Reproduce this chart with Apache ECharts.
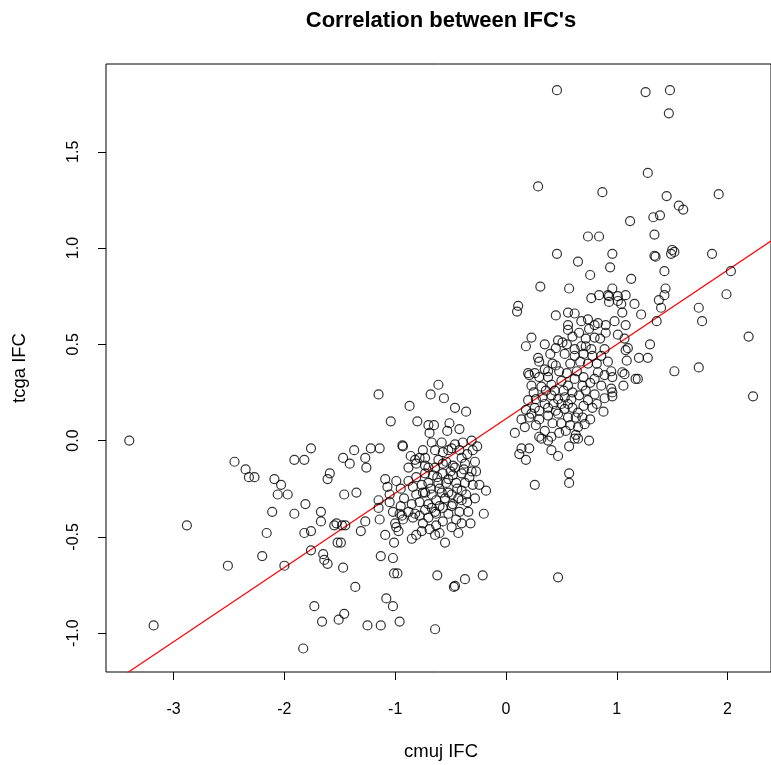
<!DOCTYPE html>
<html>
<head>
<meta charset="utf-8">
<script src="https://cdn.jsdelivr.net/npm/echarts@6/dist/echarts.min.js"></script>
<style>
html,body{margin:0;padding:0;background:#fff;}
#c{width:771px;height:765px;}
</style>
</head>
<body>
<div id="c"></div>
<script>
// ---- data (cmuj IFC, tcga IFC) ----
const leftSparse = [
[-3.40,0.00],[-3.18,-0.96],[-2.88,-0.44],[-2.51,-0.65],[-2.45,-0.11],[-2.35,-0.15],[-2.32,-0.19],[-2.27,-0.19],
[-2.20,-0.60],[-2.16,-0.48],[-2.11,-0.37],[-2.09,-0.20],[-2.03,-0.23],[-2.06,-0.28],[-2.00,-0.65],[-1.97,-0.28],
[-1.91,-0.10],[-1.91,-0.38],[-1.83,-1.08],[-1.82,-0.10],[-1.82,-0.48],[-1.81,-0.33],[-1.76,-0.04],[-1.76,-0.47],
[-1.76,-0.57],[-1.73,-0.86],[-1.67,-0.37],[-1.67,-0.42],[-1.66,-0.94],[-1.65,-0.59],[-1.64,-0.62],[-1.61,-0.64],
[-1.59,-0.17],[-1.61,-0.20],[-1.55,-0.44],[-1.52,-0.53],[-1.49,-0.53],[-1.51,-0.93],[-1.47,-0.66],[-1.46,-0.90],
[-1.53,-0.43],[-1.48,-0.44],[-1.45,-0.44],[-1.47,-0.09],[-1.41,-0.12],[-1.46,-0.28],[-1.37,-0.05],[-1.36,-0.76],
[-1.35,-0.27],[-1.31,-0.47],[-1.27,-0.42],[-1.27,-0.09],[-1.26,-0.14],[-1.25,-0.96],[-1.22,-0.04],[-1.15,0.24],
[-1.14,-0.04],[-1.15,-0.31],[-1.15,-0.35],[-1.14,-0.41],[-1.13,-0.96],[-1.13,-0.60],[-1.09,-0.20],[-1.09,-0.49],
[-1.08,-0.82],[-1.07,-0.24],[-1.05,-0.28],[-1.05,-0.32],[-1.04,0.10],[-1.02,-0.86],[-1.02,-0.61],[-1.01,-0.69],
[-1.02,-0.37],[-1.00,-0.43],[-0.99,-0.45],[-0.97,-0.47],[-0.99,-0.21],[-1.01,-0.53],[-0.98,-0.69],[-0.96,-0.94],
[-0.95,-0.34],[-0.96,-0.38],[-0.94,-0.39],[-0.93,-0.03],[-0.935,-0.025],[-0.87,0.18],[-0.80,0.10],[-0.70,0.08],
[-0.65,0.08],[-0.69,0.04],[-0.68,0.24],[-0.61,0.29],[-0.56,0.22],[-0.51,0.09],[-0.53,0.05],[-0.46,0.17],
[-0.42,0.06],[-0.36,0.15],[-0.62,-0.70],[-0.47,-0.76],[-0.46,-0.755],[-0.37,-0.72],[-0.21,-0.70],[-0.64,-0.98]
];
const leftCore = [
[-0.67,-0.01],[-0.58,-0.01],[-0.46,-0.02],[-0.39,-0.01],[-0.31,0.00],[-0.26,-0.03],[-0.64,-0.05],[-0.57,-0.06],
[-0.49,-0.04],[-0.42,-0.05],[-0.40,-0.09],[-0.82,-0.10],[-0.78,-0.09],[-0.73,-0.09],[-0.70,-0.14],[-0.61,-0.10],
[-0.54,-0.11],[-0.46,-0.14],[-0.88,-0.14],[-0.81,-0.12],[-0.73,-0.13],[-0.64,-0.14],[-0.57,-0.12],[-0.48,-0.13],
[-0.37,-0.12],[-0.28,-0.11],[-0.88,-0.21],[-0.81,-0.19],[-0.73,-0.17],[-0.66,-0.18],[-0.57,-0.17],[-0.48,-0.18],
[-0.40,-0.17],[-0.31,-0.16],[-0.27,-0.16],[-0.84,-0.24],[-0.76,-0.23],[-0.70,-0.22],[-0.61,-0.22],[-0.54,-0.22],
[-0.45,-0.22],[-0.37,-0.22],[-0.30,-0.23],[-0.24,-0.23],[-0.18,-0.26],[-0.81,-0.28],[-0.73,-0.27],[-0.67,-0.28],
[-0.58,-0.27],[-0.49,-0.28],[-0.40,-0.26],[-0.36,-0.28],[-0.85,-0.33],[-0.78,-0.32],[-0.70,-0.33],[-0.63,-0.31],
[-0.55,-0.30],[-0.48,-0.33],[-0.40,-0.31],[-0.88,-0.37],[-0.82,-0.38],[-0.73,-0.36],[-0.64,-0.37],[-0.57,-0.35],
[-0.49,-0.34],[-0.42,-0.37],[-0.34,-0.37],[-0.20,-0.38],[-0.93,-0.41],[-0.84,-0.40],[-0.78,-0.39],[-0.70,-0.40],
[-0.63,-0.38],[-0.85,-0.51],[-0.81,-0.49],[-0.76,-0.47],[-0.69,-0.46],[-0.63,-0.44],[-0.64,-0.49],[-0.60,-0.48],
[-0.55,-0.53],[-0.43,-0.48],[-0.52,-0.20],[-0.60,-0.25],[-0.44,-0.25],[-0.33,-0.19],[-0.38,-0.15],[-0.50,-0.16],
[-0.62,-0.19],[-0.68,-0.25],[-0.75,-0.27],[-0.52,-0.27],[-0.43,-0.30],[-0.35,-0.32],[-0.28,-0.30],[-0.60,-0.34],
[-0.52,-0.38],[-0.45,-0.41],[-0.67,-0.35],[-0.75,-0.43],[-0.57,-0.42],[-0.49,-0.45],[-0.40,-0.43],[-0.32,-0.43],
[-0.95,-0.25],[-0.92,-0.30],[-0.86,-0.08],[-0.75,-0.05],[-0.52,-0.05],[-0.35,-0.07],[-0.30,-0.05]
];
const rightUpper = [
[0.46,1.82],[1.26,1.81],[1.48,1.82],[1.47,1.70],[0.29,1.32],[0.87,1.29],[1.28,1.39],[1.45,1.27],
[1.92,1.28],[1.56,1.22],[1.60,1.20],[1.12,1.14],[1.33,1.16],[1.39,1.17],[0.74,1.06],[0.84,1.06],
[1.34,1.07],[0.46,0.97],[0.96,0.97],[1.34,0.96],[1.50,0.99],[1.52,0.98],[1.49,0.97],[1.86,0.97],
[0.65,0.93],[0.94,0.90],[0.76,0.86],[0.31,0.80],[0.57,0.79],[0.11,0.70],[0.10,0.67],[1.35,0.955],
[1.43,0.88],[2.03,0.88],[1.13,0.84],[1.44,0.79],[1.43,0.755],[1.38,0.73],[1.40,0.69],[1.99,0.76],
[1.74,0.69],[1.77,0.62],[1.36,0.62],[2.19,0.54],[1.30,0.50],[1.52,0.36],[1.74,0.38],[2.23,0.23]
];
const rightCore = [
[0.77,0.74],[0.84,0.755],[0.92,0.755],[0.96,0.79],[1.01,0.725],[0.93,0.72],[0.45,0.65],[0.56,0.665],
[0.56,0.60],[0.56,0.575],[0.74,0.63],[0.80,0.60],[0.83,0.61],[0.90,0.60],[0.98,0.62],[0.80,0.535],
[0.23,0.535],[0.18,0.49],[0.47,0.52],[0.51,0.51],[0.29,0.43],[0.30,0.41],[0.38,0.36],[0.45,0.39],
[0.53,0.45],[0.62,0.475],[0.68,0.49],[0.72,0.49],[0.62,0.44],[0.77,0.475],[0.89,0.475],[0.92,0.41],
[0.20,0.35],[0.26,0.35],[0.93,0.75],[1.01,0.75],[1.08,0.755],[1.04,0.71],[1.16,0.71],[1.05,0.665],
[1.22,0.655],[1.08,0.60],[1.01,0.55],[1.07,0.53],[1.08,0.47],[1.10,0.48],[1.09,0.415],[1.20,0.43],
[1.28,0.43],[0.95,0.36],[1.05,0.355],[1.07,0.345],[1.17,0.32],[1.19,0.32],[1.06,0.285],[0.96,0.25],
[0.21,0.34],[0.30,0.33],[0.38,0.33],[0.23,0.285],[0.32,0.28],[0.41,0.29],[0.50,0.31],[0.56,0.285],
[0.62,0.32],[0.69,0.285],[0.80,0.32],[0.83,0.355],[0.89,0.34],[0.96,0.33],[0.86,0.285],[0.95,0.27],
[0.80,0.24],[0.89,0.22],[0.96,0.23],[0.20,0.21],[0.27,0.215],[0.33,0.225],[0.41,0.235],[0.47,0.215],
[0.53,0.225],[0.59,0.215],[0.66,0.235],[0.23,0.14],[0.30,0.155],[0.38,0.17],[0.45,0.155],[0.53,0.165],
[0.60,0.17],[0.65,0.145],[0.14,0.11],[0.21,0.12],[0.30,0.11],[0.38,0.13],[0.47,0.14],[0.56,0.12],
[0.63,0.12],[0.71,0.085],[0.27,0.08],[0.35,0.05],[0.41,0.02],[0.48,0.04],[0.54,0.05],[0.65,0.07],
[0.30,0.02],[0.32,0.01],[0.38,0.00],[0.63,0.03],[0.62,0.01],[0.08,0.04],[0.17,0.07],[0.88,0.15],
[0.78,0.17],[0.25,0.25],[0.36,0.26],[0.44,0.26],[0.52,0.26],[0.60,0.25],[0.72,0.26],[0.76,0.30],
[0.70,0.33],[0.64,0.36],[0.55,0.35],[0.48,0.36],[0.42,0.40],[0.35,0.37],[0.58,0.40],[0.67,0.41],
[0.74,0.40],[0.82,0.40],[0.86,0.44],[0.78,0.44],[0.70,0.45],[0.55,0.50],[0.60,0.54],[0.66,0.56],
[0.72,0.53],[0.85,0.53],[0.90,0.56],[0.75,0.58],[0.68,0.62],[0.62,0.66],[0.40,0.45],[0.45,0.48],
[0.35,0.50],[0.50,0.19],[0.56,0.19],[0.43,0.19],[0.35,0.19],[0.70,0.18],[0.74,0.21],[0.82,0.19],
[0.69,0.12],[0.76,0.11],[0.42,0.09],[0.50,0.09],[0.58,0.08],[0.26,0.17],[0.18,0.16]
];
const rightLower = [
[0.14,-0.04],[0.21,-0.04],[0.12,-0.07],[0.18,-0.10],[0.41,-0.05],[0.47,-0.08],[0.57,-0.03],[0.65,0.01],
[0.75,0.00],[0.57,-0.17],[0.57,-0.22],[0.26,-0.23],[0.47,-0.71]
];
// regression line
const fitIntercept = 0.113;
const fitSlope = 0.386;
const xTicks = [-3,-2,-1,0,1,2];
const yTicks = [-1.0,-0.5,0.0,0.5,1.0,1.5];
const xRange = [-3.61, 2.392];
const yRange = [-1.202, 1.956];

const points = leftSparse.concat(leftCore, rightUpper, rightCore, rightLower);
const fitLine = [xRange[0]-0.2, xRange[1]+0.2].map(x => [x, fitIntercept + fitSlope*x]);

const FONT = "'Liberation Sans', Arial, Helvetica, sans-serif";
const chart = echarts.init(document.getElementById('c'), null, {renderer:'canvas'});
chart.setOption({
  animation:false,
  backgroundColor:'#fff',
  grid:{left:106, top:64, width:668, height:608, show:true, borderColor:'#000', borderWidth:1, backgroundColor:'transparent'},
  xAxis:{
    type:'value', min:xRange[0], max:xRange[1], position:'bottom',
    axisLine:{show:false, onZero:false}, splitLine:{show:false},
    axisTick:{show:true, inside:false, length:8, lineStyle:{color:'#000', width:1}, customValues:xTicks},
    axisLabel:{customValues:xTicks, color:'#000', fontSize:16, fontFamily:FONT, margin:30,
      formatter:v=>String(v)}
  },
  yAxis:{
    type:'value', min:yRange[0], max:yRange[1], position:'left',
    axisLine:{show:false, onZero:false}, splitLine:{show:false},
    axisTick:{show:true, inside:false, length:8, lineStyle:{color:'#000', width:1}, customValues:yTicks},
    axisLabel:{customValues:yTicks, color:'#000', fontSize:16, fontFamily:FONT, margin:24, rotate:90,
      formatter:v=>v.toFixed(1)}
  },
  graphic:[
    {type:'text', x:441, y:21, style:{text:"Correlation between IFC's", font:"bold 22px "+FONT, fill:'#000', align:'center', verticalAlign:'middle'}},
    {type:'text', x:441, y:752, style:{text:'cmuj IFC', font:"18.5px "+FONT, fill:'#000', align:'center', verticalAlign:'middle'}},
    {type:'text', x:20, y:368, rotation:Math.PI/2, style:{text:'tcga IFC', font:"18.5px "+FONT, fill:'#000', align:'center', verticalAlign:'middle'}}
  ],
  series:[
    {type:'scatter', data:points, symbol:'circle', symbolSize:9,
      itemStyle:{color:'rgba(0,0,0,0)', borderColor:'#000', borderWidth:1.2}, silent:true, z:3},
    {type:'line', data:fitLine, showSymbol:false, symbol:'none', clip:true,
      lineStyle:{color:'#ff0000', width:1.2}, silent:true, z:2}
  ]
});
</script>
</body>
</html>
